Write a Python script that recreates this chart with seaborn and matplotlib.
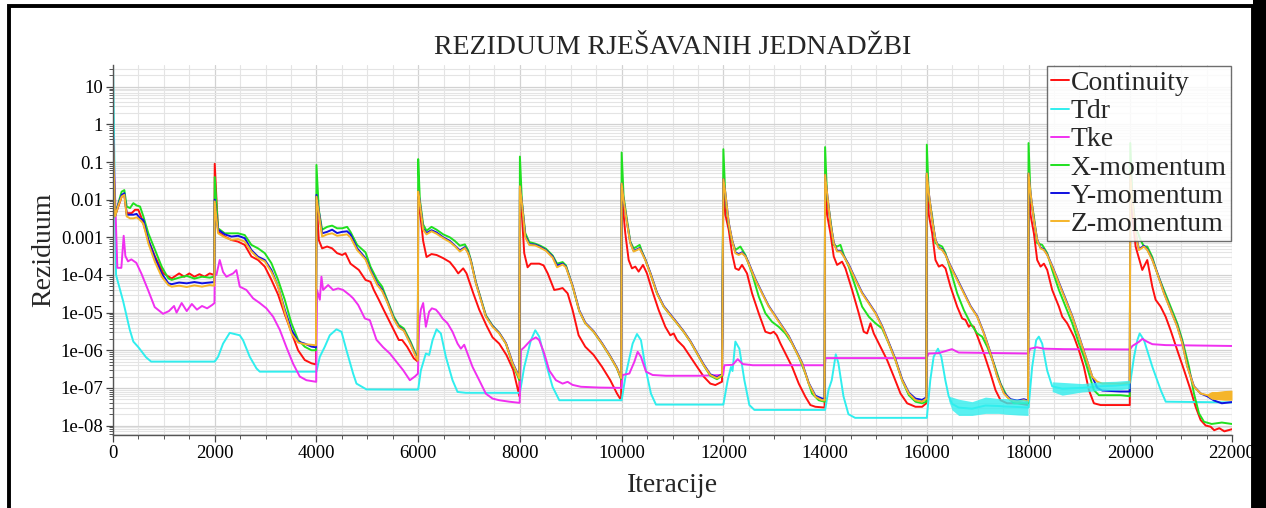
import numpy as np
import pandas as pd
import matplotlib
matplotlib.use("Agg")
import matplotlib.pyplot as plt
import matplotlib.ticker as mticker
from matplotlib.patches import Rectangle
import seaborn as sns

SERIES = ["Continuity", "Tdr", "Tke", "X-momentum", "Y-momentum", "Z-momentum"]
PALETTE = {
    "Continuity": "#ff1010",
    "Tdr": "#30eeee",
    "Tke": "#f030f0",
    "X-momentum": "#20e020",
    "Y-momentum": "#1010e0",
    "Z-momentum": "#f5b52a",
}

X_TICKS = list(range(0, 22001, 2000))
Y_TICKS = [10, 1, 0.1, 0.01, 0.001, 1e-4, 1e-5, 1e-6, 1e-7, 1e-8]
Y_TICK_LABELS = ["10", "1", "0.1", "0.01", "0.001", "1e-04", "1e-05", "1e-06", "1e-07", "1e-08"]

# Continuity residual
cont_it = [0, 39, 105, 170, 223, 269, 367, 433, 498, 564, 695, 826, 990, 1154, 1300, 1400, 1500, 1600, 1700, 1800, 1900, 1990,
           2000, 2066, 2197, 2328, 2459, 2590, 2721, 2852, 2984, 3115, 3246, 3377, 3508, 3639, 3770, 3902, 3990,
           4000, 4046, 4111, 4210, 4308, 4406, 4505, 4570, 4669, 4833, 4964, 5062, 5128, 5226, 5324, 5455, 5554, 5619, 5685, 5783, 5914, 5993,
           6000, 6033, 6098, 6164, 6262, 6361, 6492, 6623, 6721, 6787, 6885, 6951, 7082, 7200, 7344, 7462, 7593, 7737, 7869, 7990,
           8000, 8039, 8085, 8151, 8216, 8300, 8380, 8465, 8547, 8675, 8760, 8839, 8938, 9036, 9154, 9285, 9449, 9613, 9777, 9908, 9990,
           10000, 10039, 10072, 10138, 10203, 10269, 10334, 10420, 10498, 10597, 10728, 10859, 10957, 11023, 11088, 11219, 11351, 11482, 11613, 11744, 11842, 11973,
           12000, 12039, 12105, 12170, 12236, 12302, 12367, 12465, 12564, 12695, 12826, 12924, 12990, 13050, 13121, 13219, 13351, 13482, 13613, 13711, 13810, 13990,
           14000, 14039, 14105, 14170, 14236, 14334, 14400, 14531, 14662, 14760, 14826, 14892, 14957, 15088, 15219, 15351, 15482, 15613, 15777, 15908, 15990,
           16000, 16039, 16105, 16170, 16236, 16302, 16367, 16465, 16597, 16695, 16760, 16826, 16859, 16924, 17023, 17121, 17252, 17351, 17449, 17580, 17777, 17990,
           18000, 18039, 18105, 18170, 18236, 18302, 18367, 18465, 18597, 18662, 18760, 18892, 18990, 19088, 19187, 19285, 19416, 19990,
           20000, 20039, 20105, 20236, 20334, 20433, 20498, 20597, 20695, 20793, 20924, 21056, 21187, 21285, 21383, 21482, 21580, 21650, 21750, 21850, 22000]
cont_val = [0.7, 3.6e-3, 6.6e-3, 0.012, 0.0134, 4.4e-3, 4.4e-3, 5.4e-3, 5.4e-3, 3.2e-3, 8.5e-4, 3.1e-4, 1.1e-4, 8.1e-5, 1.1e-4, 9e-5, 1.1e-4, 9e-5, 1.05e-4, 9e-5, 1.1e-4, 1e-4,
            0.09, 1.4e-3, 1.05e-3, 8.5e-4, 7.7e-4, 6.3e-4, 3.1e-4, 2.5e-4, 1.67e-4, 7.4e-5, 3e-5, 9e-6, 3e-6, 1e-6, 5.5e-7, 4.5e-7, 4.2e-7,
            0.012, 8.5e-4, 5.1e-4, 5.7e-4, 5.1e-4, 3.8e-4, 3.4e-4, 3.8e-4, 2e-4, 1.36e-4, 7.4e-5, 6.6e-5, 4e-5, 2.2e-5, 1.17e-5, 5.2e-6, 2.8e-6, 1.87e-6, 1.87e-6, 1.24e-6, 6.1e-7, 5e-7,
            0.015, 5e-3, 8e-4, 3e-4, 3.6e-4, 3.4e-4, 2.8e-4, 2.2e-4, 1.5e-4, 1.1e-4, 1.5e-4, 1.1e-4, 3.3e-5, 1.2e-5, 4.5e-6, 2.2e-6, 1.5e-6, 7.4e-7, 3e-7, 6e-8,
            0.02, 4e-3, 3.8e-4, 1.6e-4, 2e-4, 2e-4, 2e-4, 1.8e-4, 1.1e-4, 4e-5, 4.2e-5, 4.5e-5, 3.25e-5, 1.17e-5, 2.5e-6, 1.24e-6, 7.5e-7, 3.65e-7, 1.6e-7, 7.1e-8, 4.7e-8,
            0.025, 4e-3, 1.28e-3, 2.5e-4, 1.5e-4, 1.67e-4, 1.23e-4, 1.85e-4, 1.1e-4, 4e-5, 1.17e-5, 4.2e-6, 2.5e-6, 2.8e-6, 1.87e-6, 1.24e-6, 6.7e-7, 3.65e-7, 2e-7, 1.3e-7, 1.19e-7, 1.46e-7,
            0.03, 4e-3, 1.6e-3, 3.8e-4, 1.5e-4, 1.36e-4, 1.85e-4, 1.1e-4, 3.25e-5, 9.6e-6, 3.1e-6, 2.8e-6, 3.1e-6, 2.5e-6, 1.52e-6, 8.3e-7, 3.65e-7, 1.3e-7, 5.8e-8, 3.5e-8, 3.15e-8, 3e-8,
            0.04, 4e-3, 1.28e-3, 3.1e-4, 1.85e-4, 2.26e-4, 1.5e-4, 4e-5, 9.6e-6, 3.1e-6, 2.8e-6, 5.2e-6, 2.8e-6, 1.24e-6, 5.5e-7, 2e-7, 7.1e-8, 3.9e-8, 3.15e-8, 3.15e-8, 3.9e-8,
            0.045, 4e-3, 1.28e-3, 2.5e-4, 1.67e-4, 1.85e-4, 1.5e-4, 4.9e-5, 1.44e-5, 7e-6, 6.4e-6, 4.2e-6, 4.7e-6, 4.2e-6, 1.87e-6, 8.3e-7, 2.4e-7, 8.7e-8, 4.7e-8, 3.9e-8, 3.9e-8, 3.5e-8,
            0.045, 4e-3, 1.28e-3, 2.5e-4, 1.67e-4, 2e-4, 1.36e-4, 4e-5, 1.44e-5, 7.8e-6, 5.2e-6, 2.3e-6, 1e-6, 3.65e-7, 8.7e-8, 3.9e-8, 3.5e-8, 3.5e-8,
            0.045, 4e-3, 5.7e-4, 1.36e-4, 2.5e-4, 4.9e-5, 2.2e-5, 1.44e-5, 7.8e-6, 3.4e-6, 1e-6, 3e-7, 8.7e-8, 3.15e-8, 1.4e-8, 1e-8, 9.3e-9, 7.5e-9, 8.5e-9, 7e-9, 8e-9]

# Tdr residual
tdr_it = [0, 60, 200, 330, 400, 500, 650, 750, 1990,
          2000, 2066, 2164, 2295, 2492, 2557, 2689, 2820, 2885, 3990,
          4000, 4066, 4164, 4262, 4393, 4492, 4590, 4721, 4787, 4984, 5990,
          6000, 6052, 6151, 6216, 6282, 6361, 6446, 6544, 6675, 6774, 6938, 7990,
          8000, 8085, 8216, 8302, 8380, 8511, 8643, 8774, 9990,
          10000, 10085, 10216, 10302, 10380, 10479, 10577, 10675, 11990,
          12000, 12085, 12150, 12180, 12236, 12315, 12413, 12511, 12610, 13990,
          14000, 14066, 14131, 14210, 14262, 14361, 14459, 14590, 15990,
          16000, 16068, 16134, 16219, 16285, 16364, 16430, 16495, 16626, 16889, 17152, 17414, 17546, 17800, 17990,
          18000, 18071, 18150, 18202, 18268, 18366, 18465, 18662, 19056, 19384, 19712, 19990,
          20000, 20074, 20139, 20185, 20270, 20435, 20599, 20697, 22000]
tdr_val = [40, 1e-4, 2e-5, 3.5e-6, 1.7e-6, 1.2e-6, 6.5e-7, 5e-7, 5e-7,
           5e-7, 6.7e-7, 1.5e-6, 2.9e-6, 2.5e-6, 1.85e-6, 6.7e-7, 3.3e-7, 2.7e-7, 2.7e-7,
           2.7e-7, 6.7e-7, 1.24e-6, 2.5e-6, 3.6e-6, 3.1e-6, 1e-6, 2.4e-7, 1.3e-7, 9.1e-8, 9e-8,
           9e-8, 2.9e-7, 8.2e-7, 7.5e-7, 1.85e-6, 3.6e-6, 2.8e-6, 6.7e-7, 1.6e-7, 7.8e-8, 7.4e-8, 7.4e-8,
           7.4e-8, 3.6e-7, 1.85e-6, 3.4e-6, 2.3e-6, 4.5e-7, 1.06e-7, 4.7e-8, 4.7e-8,
           4.7e-8, 2.4e-7, 1.5e-6, 2.7e-6, 1.85e-6, 2.9e-7, 7e-8, 3.6e-8, 3.6e-8,
           3.6e-8, 1.6e-7, 3.6e-7, 2.8e-7, 1.7e-6, 1.1e-6, 1.6e-7, 3.5e-8, 2.6e-8, 2.6e-8,
           2.6e-8, 8.7e-8, 1.6e-7, 7.8e-7, 4.5e-7, 6e-8, 2e-8, 1.6e-8, 1.6e-8,
           1.6e-8, 1.6e-7, 6.7e-7, 1.1e-6, 6.7e-7, 1.6e-7, 6e-8, 3.8e-8, 3e-8, 2.8e-8, 3.4e-8, 3.3e-8, 3.2e-8, 3.1e-8, 3e-8,
           3e-8, 3.6e-7, 1.85e-6, 2.3e-6, 1.5e-6, 2.9e-7, 1.1e-7, 9.5e-8, 1e-7, 1.1e-7, 1.15e-7, 1.25e-7,
           1.4e-7, 6.7e-7, 1.85e-6, 2.8e-6, 1.85e-6, 3.6e-7, 8.7e-8, 4.3e-8, 4.1e-8]

# noisy Tdr plateaus (lower / upper edge of the band)
tdr_band1_it = [16430, 16495, 16626, 16889, 17152, 17414, 17546, 17800, 17990]
tdr_band1_lo = [4.5e-8, 2.6e-8, 1.85e-8, 1.85e-8, 2.1e-8, 2.1e-8, 2e-8, 1.9e-8, 1.85e-8]
tdr_band1_hi = [6e-8, 5.7e-8, 5e-8, 4.3e-8, 5.7e-8, 5.2e-8, 5.2e-8, 5e-8, 4.7e-8]
tdr_band2_it = [18465, 18662, 19056, 19384, 19712, 19990]
tdr_band2_lo = [8e-8, 6.4e-8, 7.8e-8, 8.5e-8, 8.7e-8, 9.6e-8]
tdr_band2_hi = [1.45e-7, 1.4e-7, 1.3e-7, 1.45e-7, 1.5e-7, 1.6e-7]

# Tke residual
tke_it = [0, 85, 164, 210, 243, 295, 361, 459, 557, 689, 820, 984, 1100, 1200, 1250, 1350, 1450, 1550, 1650, 1750, 1850, 1950, 1995,
          2000, 2033, 2098, 2164, 2230, 2361, 2426, 2492, 2623, 2754, 2885, 3016, 3148, 3279, 3410, 3541, 3672, 3803, 3995,
          4010, 4066, 4098, 4131, 4230, 4328, 4426, 4525, 4656, 4721, 4820, 4951, 5049, 5180, 5311, 5443, 5574, 5705, 5836, 5934, 5995,
          6020, 6052, 6098, 6151, 6216, 6269, 6348, 6413, 6479, 6577, 6675, 6774, 6839, 6905, 6970, 7069, 7200, 7331, 7462, 7593, 7790, 7995,
          8020, 8085, 8151, 8216, 8315, 8380, 8479, 8577, 8708, 8839, 8938, 9036, 9200, 9561, 9995,
          10020, 10151, 10249, 10315, 10380, 10479, 10610, 10872, 11528, 11995,
          12020, 12184, 12282, 12380, 12577, 13995,
          14010, 15995,
          16035, 16232, 16494, 16626, 17995,
          18030, 18164, 18300, 18700, 19995,
          20041, 20172, 20237, 20335, 20434, 20697, 22000]
tke_val = [0.65, 1.55e-4, 1.55e-4, 1.1e-3, 3.2e-4, 2.3e-4, 2.6e-4, 2.1e-4, 1.1e-4, 4e-5, 1.4e-5, 9.3e-6, 1.1e-5, 1.5e-5, 1e-5, 1.8e-5, 1.1e-5, 1.7e-5, 1.2e-5, 1.5e-5, 1.3e-5, 1.6e-5, 1.8e-5,
           1e-4, 1e-4, 2.5e-4, 1.2e-4, 9e-5, 1.1e-4, 1.35e-4, 4.9e-5, 4e-5, 2.4e-5, 1.8e-5, 1.3e-5, 7.8e-6, 3.5e-6, 1.2e-6, 4.4e-7, 2e-7, 1.6e-7, 1.45e-7,
           4e-5, 2.2e-5, 9e-5, 4e-5, 5.4e-5, 4e-5, 4.4e-5, 4e-5, 2.9e-5, 2.4e-5, 1.6e-5, 7e-6, 6.3e-6, 1.9e-6, 1.2e-6, 8.2e-7, 4.9e-7, 2.95e-7, 1.6e-7, 2e-7, 2.4e-7,
           5.2e-6, 1.2e-5, 1.8e-5, 4.2e-6, 1.06e-5, 1.3e-5, 1.2e-5, 9.5e-6, 7e-6, 5.2e-6, 3.1e-6, 1.5e-6, 1.1e-6, 1.4e-6, 8.2e-7, 3.6e-7, 1.6e-7, 7e-8, 5.2e-8, 4.7e-8, 4.3e-8, 4e-8,
           1e-6, 1.2e-6, 1.5e-6, 1.85e-6, 2.2e-6, 1.85e-6, 8.2e-7, 2.9e-7, 1.6e-7, 1.3e-7, 1.45e-7, 1.2e-7, 1.07e-7, 1.02e-7, 1e-7,
           2.2e-7, 2.4e-7, 4.9e-7, 9.1e-7, 6.7e-7, 2.7e-7, 2.2e-7, 2.1e-7, 2.1e-7, 2.2e-7,
           4e-7, 4.1e-7, 5.8e-7, 4.3e-7, 4e-7, 4e-7,
           6.2e-7, 6.2e-7,
           8.2e-7, 8.4e-7, 1.07e-6, 8.7e-7, 8.2e-7,
           1.1e-6, 1.2e-6, 1.1e-6, 1.07e-6, 1.05e-6,
           1.3e-6, 1.68e-6, 2e-6, 1.68e-6, 1.45e-6, 1.37e-6, 1.3e-6]

# X-momentum residual
xmom_it = [0, 39, 105, 170, 223, 269, 334, 400, 465, 531, 597, 695, 826, 957, 1088, 1154, 1300, 1450, 1600, 1750, 1900, 1990,
           2000, 2066, 2197, 2328, 2459, 2590, 2721, 2852, 2984, 3115, 3246, 3377, 3508, 3639, 3770, 3902, 3990,
           4000, 4046, 4111, 4210, 4308, 4406, 4505, 4603, 4669, 4800, 4964, 5062, 5193, 5292, 5390, 5521, 5619, 5718, 5849, 5947, 5993,
           6000, 6033, 6098, 6164, 6262, 6361, 6492, 6623, 6721, 6820, 6918, 6980, 7036, 7134, 7331, 7462, 7593, 7725, 7856, 7990,
           8000, 8039, 8105, 8184, 8300, 8400, 8511, 8643, 8730, 8840, 8905, 9036, 9167, 9285, 9449, 9613, 9777, 9908, 9990,
           10000, 10039, 10105, 10170, 10236, 10302, 10354, 10400, 10465, 10564, 10695, 10826, 10957, 11088, 11219, 11351, 11482, 11613, 11744, 11875, 11973,
           12000, 12039, 12105, 12170, 12236, 12334, 12433, 12564, 12695, 12826, 12957, 13088, 13219, 13351, 13482, 13613, 13744, 13875, 13990,
           14000, 14039, 14105, 14170, 14236, 14302, 14367, 14465, 14597, 14728, 14859, 14990, 15121, 15252, 15383, 15514, 15646, 15777, 15908, 15990,
           16000, 16039, 16105, 16170, 16236, 16302, 16367, 16465, 16597, 16728, 16859, 16990, 17088, 17187, 17318, 17449, 17580, 17711, 17842, 17990,
           18000, 18039, 18105, 18170, 18269, 18367, 18465, 18597, 18728, 18859, 18990, 19088, 19187, 19285, 19383, 19810, 19990,
           20000, 20039, 20105, 20203, 20269, 20334, 20433, 20531, 20662, 20793, 20924, 21023, 21154, 21252, 21351, 21449, 21600, 21800, 22000]
xmom_val = [0.5, 3.6e-3, 8.1e-3, 0.0164, 0.018, 6.6e-3, 6e-3, 8.1e-3, 7e-3, 6.6e-3, 3.6e-3, 1.28e-3, 4.6e-4, 1.67e-4, 8.1e-5, 7.4e-5, 8.5e-5, 9.5e-5, 8e-5, 9e-5, 8.5e-5, 9e-5,
            0.04, 1.74e-3, 1.28e-3, 1.28e-3, 1.28e-3, 1.15e-3, 6.3e-4, 5.1e-4, 3.8e-4, 2.05e-4, 7.4e-5, 2.2e-5, 5.2e-6, 1.9e-6, 1.24e-6, 1e-6, 1e-6,
            0.084, 5.4e-3, 1.6e-3, 1.9e-3, 2.05e-3, 1.74e-3, 1.74e-3, 1.9e-3, 1.4e-3, 6.3e-4, 4e-4, 1.67e-4, 7.4e-5, 4.9e-5, 2.2e-5, 7.8e-6, 4.7e-6, 3.8e-6, 1.7e-6, 8.3e-7, 6.1e-7,
            0.12, 0.01, 2.2e-3, 1.5e-3, 1.9e-3, 1.6e-3, 1.2e-3, 1e-3, 8e-4, 6e-4, 6.5e-4, 4.6e-4, 2.5e-4, 6.5e-5, 8.5e-6, 4.5e-6, 2.9e-6, 1.5e-6, 4.3e-7, 1.6e-7,
            0.14, 9e-3, 1.3e-3, 7.5e-4, 6.8e-4, 6e-4, 5e-4, 3.3e-4, 2e-4, 2.2e-4, 1.8e-4, 5e-5, 1.1e-5, 5.2e-6, 3.1e-6, 1.5e-6, 6.7e-7, 3.3e-7, 1.7e-7,
            0.18, 0.012, 2.9e-3, 7.7e-4, 5.1e-4, 5.7e-4, 6.3e-4, 4.2e-4, 2.6e-4, 1.1e-4, 3.25e-5, 1.44e-5, 8.6e-6, 5.2e-6, 3.1e-6, 1.7e-6, 8.3e-7, 4e-7, 2.1e-7, 1.7e-7, 2.1e-7,
            0.22, 0.012, 2.2e-3, 8e-4, 4.6e-4, 5.7e-4, 3.4e-4, 1.1e-4, 2.7e-5, 9.6e-6, 5.7e-6, 4.2e-6, 2.8e-6, 1.52e-6, 6.7e-7, 2.4e-7, 7.1e-8, 4.7e-8, 4.3e-8,
            0.25, 0.012, 2.9e-3, 6.3e-4, 5.7e-4, 6.3e-4, 3.4e-4, 1.67e-4, 4.9e-5, 1.44e-5, 7.8e-6, 5.2e-6, 3.8e-6, 1.52e-6, 5.5e-7, 1.6e-7, 6.4e-8, 4.3e-8, 3.9e-8, 4.3e-8,
            0.29, 0.012, 3.6e-3, 7e-4, 6.3e-4, 5.7e-4, 3.8e-4, 1.36e-4, 3.25e-5, 1.17e-5, 5.2e-6, 2.8e-6, 2.3e-6, 1.24e-6, 4.5e-7, 1.3e-7, 5.8e-8, 3.9e-8, 3.9e-8, 3.9e-8,
            0.32, 0.012, 3.6e-3, 7e-4, 6.3e-4, 3.8e-4, 1.36e-4, 4e-5, 1.44e-5, 5.2e-6, 1.52e-6, 6.7e-7, 2.4e-7, 8.7e-8, 6.4e-8, 6.4e-8, 6e-8,
            0.32, 0.012, 1.9e-3, 8.5e-4, 5.7e-4, 5.7e-4, 3e-4, 1.1e-4, 4e-5, 1.44e-5, 5.2e-6, 1.87e-6, 3.65e-7, 7.1e-8, 2.1e-8, 1.26e-8, 1.1e-8, 1.2e-8, 1.1e-8]

# Y- and Z-momentum residuals share the iteration points
yz_it = [0, 39, 105, 170, 223, 269, 334, 400, 465, 531, 597, 695, 826, 957, 1088, 1154, 1300, 1450, 1600, 1750, 1900, 1990,
         2000, 2066, 2197, 2328, 2459, 2590, 2721, 2852, 2984, 3115, 3246, 3377, 3508, 3639, 3770, 3902, 3990,
         4000, 4046, 4111, 4210, 4308, 4406, 4505, 4603, 4669, 4800, 4964, 5062, 5193, 5292, 5390, 5521, 5619, 5718, 5849, 5947, 5993,
         6000, 6033, 6098, 6164, 6262, 6361, 6492, 6623, 6721, 6820, 6918, 6980, 7036, 7134, 7331, 7462, 7593, 7725, 7856, 7990,
         8000, 8039, 8105, 8184, 8300, 8400, 8511, 8643, 8730, 8840, 8905, 9036, 9167, 9285, 9449, 9613, 9777, 9908, 9990,
         10000, 10039, 10105, 10170, 10236, 10302, 10354, 10400, 10465, 10564, 10695, 10826, 10957, 11088, 11219, 11351, 11482, 11613, 11744, 11875, 11973,
         12000, 12039, 12105, 12170, 12236, 12302, 12367, 12433, 12498, 12629, 12760, 12892, 13023, 13154, 13285, 13416, 13547, 13678, 13810, 13941, 13990,
         14000, 14039, 14105, 14170, 14236, 14302, 14367, 14465, 14597, 14728, 14859, 14990, 15121, 15252, 15383, 15514, 15646, 15777, 15908, 15990,
         16000, 16039, 16105, 16170, 16236, 16302, 16367, 16465, 16597, 16728, 16859, 16990, 17121, 17252, 17383, 17514, 17646, 17777, 17908, 17990,
         18000, 18039, 18105, 18170, 18236, 18302, 18367, 18465, 18597, 18728, 18859, 18990, 19121, 19252, 19351, 19449, 19810, 19990,
         20000, 20039, 20105, 20170, 20269, 20334, 20433, 20531, 20662, 20793, 20924, 21023, 21121, 21252, 21383, 21514, 21650, 21800, 22000]
zmom_val = [0.5, 3.6e-3, 7e-3, 0.0121, 0.0134, 3.6e-3, 3.2e-3, 3.2e-3, 3.4e-3, 2.9e-3, 2.3e-3, 6.9e-4, 2.2e-4, 9e-5, 5.4e-5, 4.9e-5, 5.2e-5, 4.8e-5, 5.3e-5, 4.9e-5, 5.4e-5, 5.2e-5,
            0.009, 1.28e-3, 1e-3, 8.6e-4, 9e-4, 7.7e-4, 4.2e-4, 2.8e-4, 2.3e-4, 1.2e-4, 4.9e-5, 1.05e-5, 2.8e-6, 1.6e-6, 1.45e-6, 1.4e-6, 1.35e-6,
            0.012, 4.5e-3, 1.05e-3, 1.2e-3, 1.28e-3, 1.1e-3, 1.15e-3, 1.2e-3, 1e-3, 4.6e-4, 2.6e-4, 1.25e-4, 5.5e-5, 3.7e-5, 1.9e-5, 6.6e-6, 4e-6, 3.3e-6, 1.45e-6, 7.2e-7, 5.3e-7,
            0.0166, 8e-3, 1.6e-3, 1.2e-3, 1.45e-3, 1.25e-3, 9.5e-4, 7.5e-4, 5.8e-4, 4.2e-4, 5.2e-4, 3.8e-4, 2.3e-4, 6e-5, 7.8e-6, 4.2e-6, 2.8e-6, 1.5e-6, 4.5e-7, 1.8e-7,
            0.023, 8.1e-3, 1e-3, 6.3e-4, 6.1e-4, 5.3e-4, 4.4e-4, 2.9e-4, 1.6e-4, 1.9e-4, 1.6e-4, 5e-5, 1.1e-5, 5.2e-6, 3.1e-6, 1.5e-6, 6.7e-7, 3.3e-7, 1.8e-7,
            0.027, 9.9e-3, 2.4e-3, 7e-4, 4.2e-4, 4.6e-4, 5e-4, 3.8e-4, 2.5e-4, 1.1e-4, 3.25e-5, 1.44e-5, 8.6e-6, 5.2e-6, 3.1e-6, 1.7e-6, 8.3e-7, 4e-7, 2.2e-7, 1.8e-7, 2.2e-7,
            0.035, 0.015, 2.4e-3, 8.5e-4, 3.8e-4, 3.4e-4, 3.8e-4, 3.1e-4, 2e-4, 7.4e-5, 3.25e-5, 1.44e-5, 7.8e-6, 4.2e-6, 2.3e-6, 1e-6, 4.5e-7, 1.3e-7, 5.8e-8, 4.7e-8, 4.7e-8,
            0.046, 0.015, 2.4e-3, 7e-4, 4.2e-4, 4.2e-4, 3.1e-4, 1.8e-4, 7.4e-5, 3.25e-5, 1.76e-5, 9.6e-6, 4.2e-6, 1.52e-6, 5.5e-7, 1.6e-7, 7.1e-8, 4.7e-8, 4.3e-8, 5.2e-8,
            0.05, 0.015, 2.9e-3, 8.5e-4, 5.1e-4, 4.6e-4, 3.4e-4, 1.67e-4, 7.4e-5, 3.25e-5, 1.44e-5, 7.8e-6, 2.8e-6, 8.3e-7, 2e-7, 7.1e-8, 4.7e-8, 4.3e-8, 4.7e-8, 4.3e-8,
            0.05, 0.015, 2.9e-3, 8.5e-4, 5.1e-4, 4.6e-4, 3.4e-4, 1.67e-4, 6e-5, 2.2e-5, 7.8e-6, 2.3e-6, 6.7e-7, 2e-7, 1.46e-7, 1.3e-7, 1.3e-7, 1.37e-7,
            0.05, 0.01, 1.28e-3, 4.6e-4, 5.7e-4, 4.6e-4, 2.5e-4, 1.1e-4, 3.25e-5, 1.17e-5, 4.2e-6, 1.52e-6, 3.65e-7, 1.07e-7, 7.1e-8, 6.4e-8, 6.4e-8, 6.6e-8, 6.7e-8]
ymom_val = [0.5, 3.8e-3, 7.5e-3, 0.0134, 0.0149, 4e-3, 4e-3, 4e-3, 4.2e-3, 3.2e-3, 2.9e-3, 8.5e-4, 2.8e-4, 1.1e-4, 6e-5, 5.7e-5, 6.3e-5, 6e-5, 6.5e-5, 6e-5, 6.3e-5, 6.5e-5,
            0.01, 1.6e-3, 1.2e-3, 1.05e-3, 1.1e-3, 9.5e-4, 4.6e-4, 3.05e-4, 2.5e-4, 1.35e-4, 4.9e-5, 1.2e-5, 3.5e-6, 1.7e-6, 1.5e-6, 1.25e-6, 1.2e-6,
            0.0134, 5e-3, 1.28e-3, 1.4e-3, 1.6e-3, 1.3e-3, 1.4e-3, 1.45e-3, 1.2e-3, 5.1e-4, 2.8e-4, 1.36e-4, 6e-5, 4e-5, 2e-5, 7e-6, 4.2e-6, 3.4e-6, 1.52e-6, 7.5e-7, 5.5e-7,
            0.0166, 8.5e-3, 1.7e-3, 1.3e-3, 1.55e-3, 1.35e-3, 1e-3, 8e-4, 6e-4, 4.5e-4, 5.5e-4, 4e-4, 2.4e-4, 6.3e-5, 8e-6, 4.4e-6, 2.9e-6, 1.55e-6, 4.7e-7, 1.9e-7,
            0.023, 8.5e-3, 1.1e-3, 6.6e-4, 6.4e-4, 5.6e-4, 4.6e-4, 3.1e-4, 1.8e-4, 2e-4, 1.67e-4, 5.2e-5, 1.15e-5, 5.4e-6, 3.2e-6, 1.55e-6, 6.9e-7, 3.4e-7, 1.8e-7,
            0.027, 0.01, 2.5e-3, 7.3e-4, 4.4e-4, 4.8e-4, 5.2e-4, 4e-4, 2.6e-4, 1.15e-4, 3.4e-5, 1.5e-5, 9e-6, 5.4e-6, 3.2e-6, 1.75e-6, 8.6e-7, 4.2e-7, 2.3e-7, 1.9e-7, 2.3e-7,
            0.035, 0.015, 2.5e-3, 8.8e-4, 4e-4, 3.6e-4, 4e-4, 3.2e-4, 2.1e-4, 7.8e-5, 3.4e-5, 1.5e-5, 8.1e-6, 4.4e-6, 2.4e-6, 1.05e-6, 4.7e-7, 1.35e-7, 6.2e-8, 5.2e-8, 5.2e-8,
            0.046, 0.015, 2.5e-3, 7.3e-4, 4.4e-4, 4.4e-4, 3.2e-4, 1.9e-4, 7.8e-5, 3.4e-5, 1.85e-5, 1e-5, 4.4e-6, 1.6e-6, 5.8e-7, 1.7e-7, 7.5e-8, 5.2e-8, 4.8e-8, 5.6e-8,
            0.05, 0.015, 3e-3, 8.8e-4, 5.3e-4, 4.8e-4, 3.5e-4, 1.75e-4, 7.8e-5, 3.4e-5, 1.5e-5, 8.1e-6, 2.9e-6, 8.6e-7, 2.1e-7, 7.5e-8, 5e-8, 4.6e-8, 5e-8, 4.6e-8,
            0.05, 0.015, 3e-3, 8.8e-4, 5.3e-4, 4.8e-4, 3.5e-4, 1.75e-4, 6.3e-5, 2.3e-5, 8.1e-6, 2.4e-6, 6.9e-7, 2e-7, 1e-7, 8.5e-8, 8e-8, 8e-8,
            0.05, 0.01, 1.35e-3, 4.8e-4, 6e-4, 4.8e-4, 2.6e-4, 1.15e-4, 3.4e-5, 1.2e-5, 4.4e-6, 1.6e-6, 3.8e-7, 1.1e-7, 7.1e-8, 6e-8, 4.6e-8, 3.9e-8, 4.2e-8]

# oscillating Z-momentum tail
zmom_band_it = [21514, 21600, 21700, 21850, 22000]
zmom_band_lo = [6e-8, 5e-8, 4.9e-8, 4.7e-8, 4.7e-8]
zmom_band_hi = [7e-8, 8e-8, 8e-8, 8.5e-8, 8.7e-8]

sns.set_theme(style="whitegrid")
plt.rcParams["font.family"] = "Liberation Serif"

frames = []
for name, its, vals in [
    ("Continuity", cont_it, cont_val),
    ("Tdr", tdr_it, tdr_val),
    ("Tke", tke_it, tke_val),
    ("X-momentum", xmom_it, xmom_val),
    ("Y-momentum", yz_it, ymom_val),
    ("Z-momentum", yz_it, zmom_val),
]:
    frames.append(pd.DataFrame({"Iteracija": its, "Rezidual": vals, "Jednadzba": name}))
df = pd.concat(frames, ignore_index=True)

fig = plt.figure(figsize=(12.66, 5.08), dpi=100)
ax = fig.add_axes([113 / 1266, 1 - 435 / 508, (1232 - 113) / 1266, (435 - 65) / 508])
ax.set_yscale("log")

sns.lineplot(data=df, x="Iteracija", y="Rezidual", hue="Jednadzba", hue_order=SERIES,
             palette=PALETTE, estimator=None, sort=False, linewidth=1.4, ax=ax)

ax.fill_between(tdr_band1_it, tdr_band1_lo, tdr_band1_hi, color=PALETTE["Tdr"], alpha=0.8, lw=0, zorder=2.1)
ax.fill_between(tdr_band2_it, tdr_band2_lo, tdr_band2_hi, color=PALETTE["Tdr"], alpha=0.8, lw=0, zorder=2.1)
ax.fill_between(zmom_band_it, zmom_band_lo, zmom_band_hi, color=PALETTE["Z-momentum"], lw=0, zorder=2.5)

ax.set_xlim(0, 22000)
ax.set_ylim(5.6e-9, 38)
ax.set_xticks(X_TICKS)
ax.xaxis.set_minor_locator(mticker.MultipleLocator(500))
ax.set_yticks(Y_TICKS)
ax.set_yticklabels(Y_TICK_LABELS)
ax.yaxis.set_minor_locator(mticker.LogLocator(base=10, subs=np.arange(2, 10), numticks=30))
ax.yaxis.set_minor_formatter(mticker.NullFormatter())

ax.grid(which="major", color="#d2d2d2", linewidth=0.9)
ax.grid(which="minor", color="#e4e4e4", linewidth=0.8)
ax.tick_params(which="major", direction="out", length=5, width=0.9, color="#444444",
               labelsize=13.5, labelcolor="black", bottom=True, left=True, pad=2)
ax.tick_params(which="minor", direction="out", length=3, width=0.7, color="#555555", bottom=True, left=True)
for side in ["top", "right"]:
    ax.spines[side].set_visible(False)
for side in ["left", "bottom"]:
    ax.spines[side].set_color("#555555")
    ax.spines[side].set_linewidth(1.0)

ax.set_title("REZIDUUM RJEŠAVANIH JEDNADŽBI", fontsize=20, pad=8)
ax.set_xlabel("Iteracije", fontsize=20, labelpad=8)
ax.set_ylabel("Reziduum", fontsize=20, labelpad=3)

handles, labels = ax.get_legend_handles_labels()
leg = ax.legend(handles, labels, loc="upper right", fontsize=20, handlelength=0.65,
                handletextpad=0.05, labelspacing=0.1, borderpad=0.15, borderaxespad=0.05,
                frameon=True, fancybox=False, framealpha=0.85, edgecolor="#555555")
leg.get_frame().set_linewidth(1.0)

# black frame around the whole picture
fig.patches.append(Rectangle((9 / 1266, -0.05), (1253 - 9) / 1266, 1.05 - 6.5 / 508,
                             transform=fig.transFigure, fill=False, edgecolor="black", linewidth=2.8))
fig.patches.append(Rectangle((1253 / 1266, 0), 13 / 1266, 1, transform=fig.transFigure,
                             facecolor="black", edgecolor="none"))

fig.savefig("out.png", dpi=100)
